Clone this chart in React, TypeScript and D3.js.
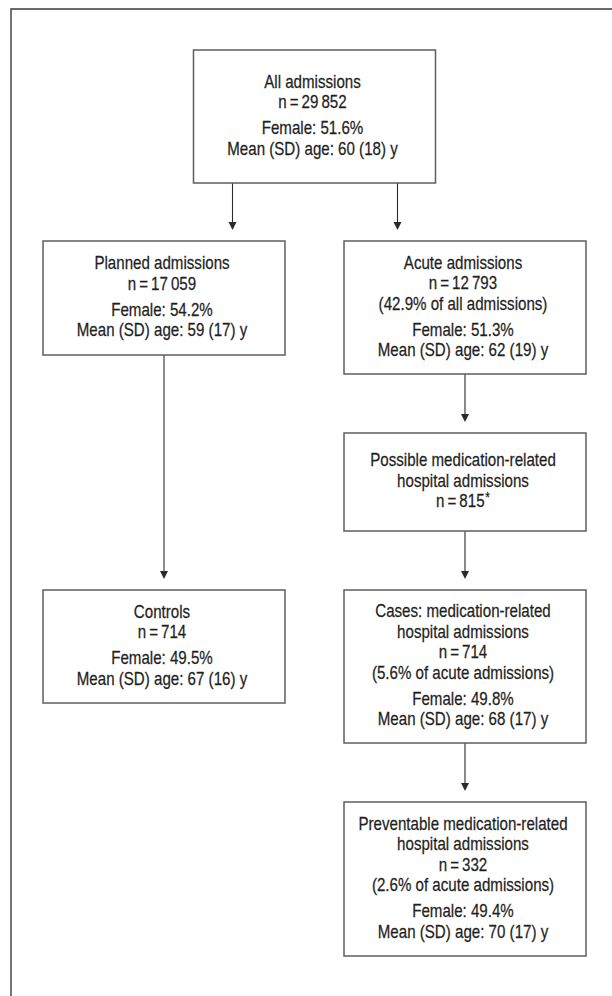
import React, { useRef, useEffect } from 'react';
import * as d3 from 'd3';

// Flow of admissions: one entry per box
const nodeIds = ["all", "planned", "acute", "possible", "controls", "cases", "preventable"];
const nodeTitles: string[][] = [
	["All admissions"],
	["Planned admissions"],
	["Acute admissions"],
	["Possible medication-related", "hospital admissions"],
	["Controls"],
	["Cases: medication-related", "hospital admissions"],
	["Preventable medication-related", "hospital admissions"],
];
const nodeCounts = ["29\u2009852", "17\u2009059", "12\u2009793", "815", "714", "714", "332"];
const countMarks = ["", "", "", "*", "", "", ""];
const nodeShares: (string | null)[] = [null, null, "(42.9% of all admissions)", null, null, "(5.6% of acute admissions)", "(2.6% of acute admissions)"];
const femalePct: (number | null)[] = [51.6, 54.2, 51.3, null, 49.5, 49.8, 49.4];
const meanAge: (number | null)[] = [60, 59, 62, null, 67, 68, 70];
const sdAge: (number | null)[] = [18, 17, 19, null, 16, 17, 17];
const links: [string, string][] = [
	["all", "planned"],
	["all", "acute"],
	["acute", "possible"],
	["planned", "controls"],
	["possible", "cases"],
	["cases", "preventable"],
];

const App: React.FC = () => {
	const svgRef = useRef<SVGSVGElement | null>(null);

	useEffect(() => {
		if (!svgRef.current) return;
		const width = 612, height = 996;
		const boxW = 242;
		const lineH = 20.5, groupGap = 26, capH = 12.9;
		const squeeze = 0.84; // condensed look on a regular face

		// box placement: column + top + height
		const layout: Record<string, { col: string; top: number; h: number }> = {
			all: { col: "mid", top: 50, h: 133 },
			planned: { col: "left", top: 241, h: 114 },
			acute: { col: "right", top: 241, h: 133 },
			possible: { col: "right", top: 433, h: 98 },
			controls: { col: "left", top: 590, h: 113 },
			cases: { col: "right", top: 590, h: 153 },
			preventable: { col: "right", top: 802, h: 154 },
		};
		const x = d3.scalePoint<string>().domain(["left", "mid", "right"]).range([164, 465]);

		const nodes = nodeIds.map((id, i) => {
			const l = layout[id];
			const cx = x(l.col)!;
			const groups: { text: string; mark?: string }[][] = [];
			const g1: { text: string; mark?: string }[] = nodeTitles[i].map(t => ({ text: t }));
			g1.push({ text: `n\u2009=\u2009${nodeCounts[i]}`, mark: countMarks[i] });
			if (nodeShares[i]) g1.push({ text: nodeShares[i]! });
			groups.push(g1);
			if (femalePct[i] != null) {
				groups.push([
					{ text: `Female: ${d3.format(".1f")(femalePct[i]!)}%` },
					{ text: `Mean (SD) age: ${meanAge[i]} (${sdAge[i]}) y` },
				]);
			}
			// baseline offsets
			const lines: { text: string; mark?: string; dy: number }[] = [];
			let y = 0;
			groups.forEach((g, gi) => {
				g.forEach((ln, li) => {
					if (gi > 0 || li > 0) y += (li === 0 ? groupGap : lineH);
					lines.push({ ...ln, dy: y });
				});
			});
			const blockMid = (-capH + y) / 2;
			const first = l.top + l.h / 2 - 1.5 - blockMid;
			return { id, cx, x0: cx - boxW / 2, x1: cx + boxW / 2, y0: l.top, y1: l.top + l.h, lines: lines.map(d => ({ ...d, y: first + d.dy })) };
		});
		const byId = new Map(nodes.map(n => [n.id, n]));

		const svg = d3.select(svgRef.current)
			.attr("width", width)
			.attr("height", height);
		svg.selectAll("*").remove();

		// outer frame (top + left edges only visible)
		svg.append("path")
			.attr("d", `M11,${height}V9H${width}`)
			.attr("fill", "none")
			.attr("stroke", "#3a3a3a")
			.attr("stroke-width", 1.4);

		// connectors
		const linkData = links.map(([s, t]) => {
			const a = byId.get(s)!, b = byId.get(t)!;
			let lx = b.cx;
			if (s === "all") lx = t === "planned" ? a.x0 + 39 : a.x1 - 38;
			return { lx, ya: a.y1, yb: b.y0 - 11 };
		});
		const gLinks = svg.append("g");
		gLinks.selectAll("line")
			.data(linkData)
			.join("line")
			.attr("x1", d => d.lx).attr("x2", d => d.lx)
			.attr("y1", d => d.ya).attr("y2", d => d.yb - 4)
			.attr("stroke", "#2b2b2b")
			.attr("stroke-width", 1.1);
		gLinks.selectAll("path")
			.data(linkData)
			.join("path")
			.attr("d", d => `M${d.lx - 4},${d.yb - 8}L${d.lx + 4},${d.yb - 8}L${d.lx},${d.yb}Z`)
			.attr("fill", "#2b2b2b");

		// boxes
		const gNodes = svg.append("g")
			.selectAll("g")
			.data(nodes)
			.join("g");
		gNodes.append("rect")
			.attr("x", d => d.x0).attr("y", d => d.y0)
			.attr("width", d => d.x1 - d.x0).attr("height", d => d.y1 - d.y0)
			.attr("fill", "#fff")
			.attr("stroke", "#5e5e5e")
			.attr("stroke-width", 1.5);

		const txt = gNodes.selectAll("text")
			.data(d => d.lines.map(l => ({ ...l, cx: d.cx })))
			.join("text")
			.attr("transform", d => `translate(${d.cx - 2},${d.y}) scale(${squeeze},1)`)
			.attr("text-anchor", "middle")
			.attr("fill", "#1f1f1f")
			.attr("stroke", "#1f1f1f")
			.attr("stroke-width", 0.25)
			.style("font-family", "'Liberation Sans', Arial, sans-serif")
			.style("font-size", "18px");
		txt.append("tspan").text(d => d.text);
		txt.filter(d => !!d.mark)
			.append("tspan")
			.attr("dx", 1)
			.attr("dy", -5)
			.style("font-size", "14px")
			.text(d => d.mark!);

		return () => {
			svg.selectAll("*").remove();
		};
	}, []);

	return (
		<div style={{ position: 'absolute', left: 0, top: 0 }}>
			<svg ref={svgRef} style={{ display: 'block' }} />
		</div>
	);
};

export default App;
